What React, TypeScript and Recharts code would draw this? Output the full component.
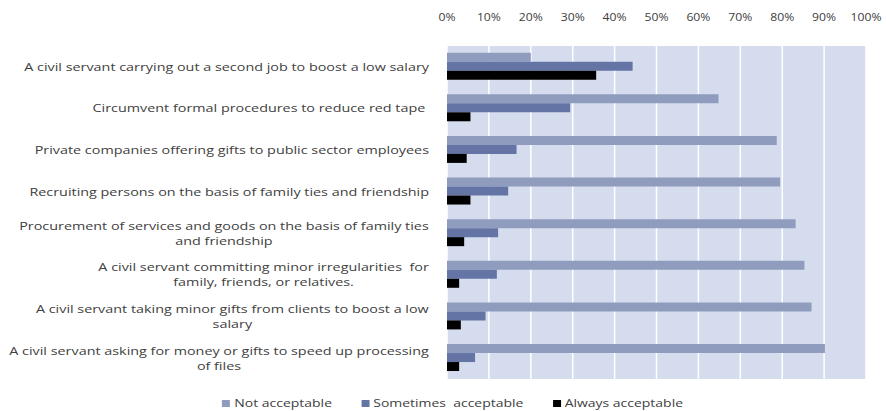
import { Bar, BarChart, CartesianGrid, Legend, XAxis, YAxis } from "recharts";

// Attitudes towards practices in the public sector (share of respondents).
const categories = [
  "A civil servant carrying out a second job to boost a low salary",
  "Circumvent formal procedures to reduce red tape ",
  "Private companies offering gifts to public sector employees",
  "Recruiting persons on the basis of family ties and friendship",
  "Procurement of services and goods on the basis of family ties\nand friendship",
  "A civil servant committing minor irregularities  for\nfamily, friends, or relatives.",
  "A civil servant taking minor gifts from clients to boost a low\nsalary",
  "A civil servant asking for money or gifts to speed up processing\nof files",
];

const notAcceptable = [0.2, 0.648, 0.787, 0.795, 0.832, 0.853, 0.87, 0.902];
const sometimesAcceptable = [0.443, 0.294, 0.166, 0.146, 0.122, 0.119, 0.092, 0.067];
const alwaysAcceptable = [0.356, 0.056, 0.047, 0.056, 0.041, 0.029, 0.033, 0.029];

const xTicks = [0, 0.1, 0.2, 0.3, 0.4, 0.5, 0.6, 0.7, 0.8, 0.9, 1];

const SERIES = [
  { key: "notAcceptable", name: "Not acceptable", color: "#8f9cbd" },
  { key: "sometimesAcceptable", name: "Sometimes  acceptable", color: "#6475a5" },
  { key: "alwaysAcceptable", name: "Always acceptable", color: "#000000" },
];

const data = categories.map((label, i) => ({
  label,
  notAcceptable: notAcceptable[i],
  sometimesAcceptable: sometimesAcceptable[i],
  alwaysAcceptable: alwaysAcceptable[i],
}));

const FONT = "'Open Sans', sans-serif";
const TEXT = "#404040";
const LABEL_SIZE = 11.5;
// the source picture is stretched sideways, so text is widened to match
const STRETCH = 1.25;

let ctx: CanvasRenderingContext2D | null = null;
function textWidth(s: string): number {
  if (!ctx) ctx = document.createElement("canvas").getContext("2d");
  if (!ctx) return s.length * 6;
  ctx.font = `${LABEL_SIZE}px 'Open Sans'`;
  return ctx.measureText(s).width;
}

// Excel-style label: the block is right-aligned, wrapped lines centred in it.
function CategoryTick(props: any) {
  const { x, y, payload } = props;
  const lines: string[] = String(payload.value).split("\n");
  const lineH = 15;
  const w = Math.max(...lines.map(textWidth));
  const single = lines.length === 1;
  const startY = -((lines.length - 1) * lineH) / 2 + 4;
  return (
    <g transform={`translate(${x},${y}) scale(${STRETCH},1)`}>
      <text
        textAnchor={single ? "end" : "middle"}
        fill={TEXT}
        fontSize={LABEL_SIZE}
        fontFamily={FONT}
        style={{ whiteSpace: "pre" }}
      >
        {lines.map((l, i) => (
          <tspan key={i} x={single ? 0 : -w / 2} y={startY + i * lineH}>
            {l}
          </tspan>
        ))}
      </text>
    </g>
  );
}

function PercentTick(props: any) {
  const { x, y, payload } = props;
  return (
    <g transform={`translate(${x},${y}) scale(1.22,1)`}>
      <text textAnchor="middle" fill={TEXT} fontSize={10} fontFamily={FONT}>
        {`${Math.round(payload.value * 100)}%`}
      </text>
    </g>
  );
}

function LegendContent() {
  return (
    <div
      style={{
        display: "flex",
        justifyContent: "center",
        gap: 22,
        paddingTop: 17,
        paddingLeft: 39,
        fontFamily: FONT,
        fontSize: 10.5,
        color: TEXT,
        transform: "scaleX(1.33)",
        transformOrigin: "452px 50%",
      }}
    >
      {SERIES.map((s) => (
        <span key={s.key} style={{ display: "flex", alignItems: "center", whiteSpace: "pre" }}>
          <span style={{ width: 6, height: 7, background: s.color, marginRight: 3, display: "inline-block" }} />
          {s.name}
        </span>
      ))}
    </div>
  );
}

export default function App() {
  return (
    <div style={{ position: "absolute", left: 0, top: 0, background: "#ffffff" }}>
      <BarChart
        width={886}
        height={411}
        data={data}
        layout="vertical"
        margin={{ top: 0, right: 20, bottom: 0, left: 0 }}
        barCategoryGap="16%"
        barGap={0}
      >
        <CartesianGrid horizontal={false} fill="#d4dcee" stroke="#ffffff" strokeWidth={1.5} />
        <XAxis
          type="number"
          orientation="top"
          domain={[0, 1]}
          ticks={xTicks}
          axisLine={false}
          tickLine={false}
          tickSize={0}
          tickMargin={25}
          height={46}
          interval={0}
          tick={<PercentTick />}
        />
        <YAxis
          type="category"
          dataKey="label"
          width={447}
          axisLine={false}
          tickLine={false}
          tickSize={0}
          tickMargin={18}
          interval={0}
          tick={<CategoryTick />}
        />
        <Legend verticalAlign="bottom" height={32} content={<LegendContent />} />
        {SERIES.map((s) => (
          <Bar key={s.key} dataKey={s.key} name={s.name} fill={s.color} isAnimationActive={false} />
        ))}
      </BarChart>
    </div>
  );
}
